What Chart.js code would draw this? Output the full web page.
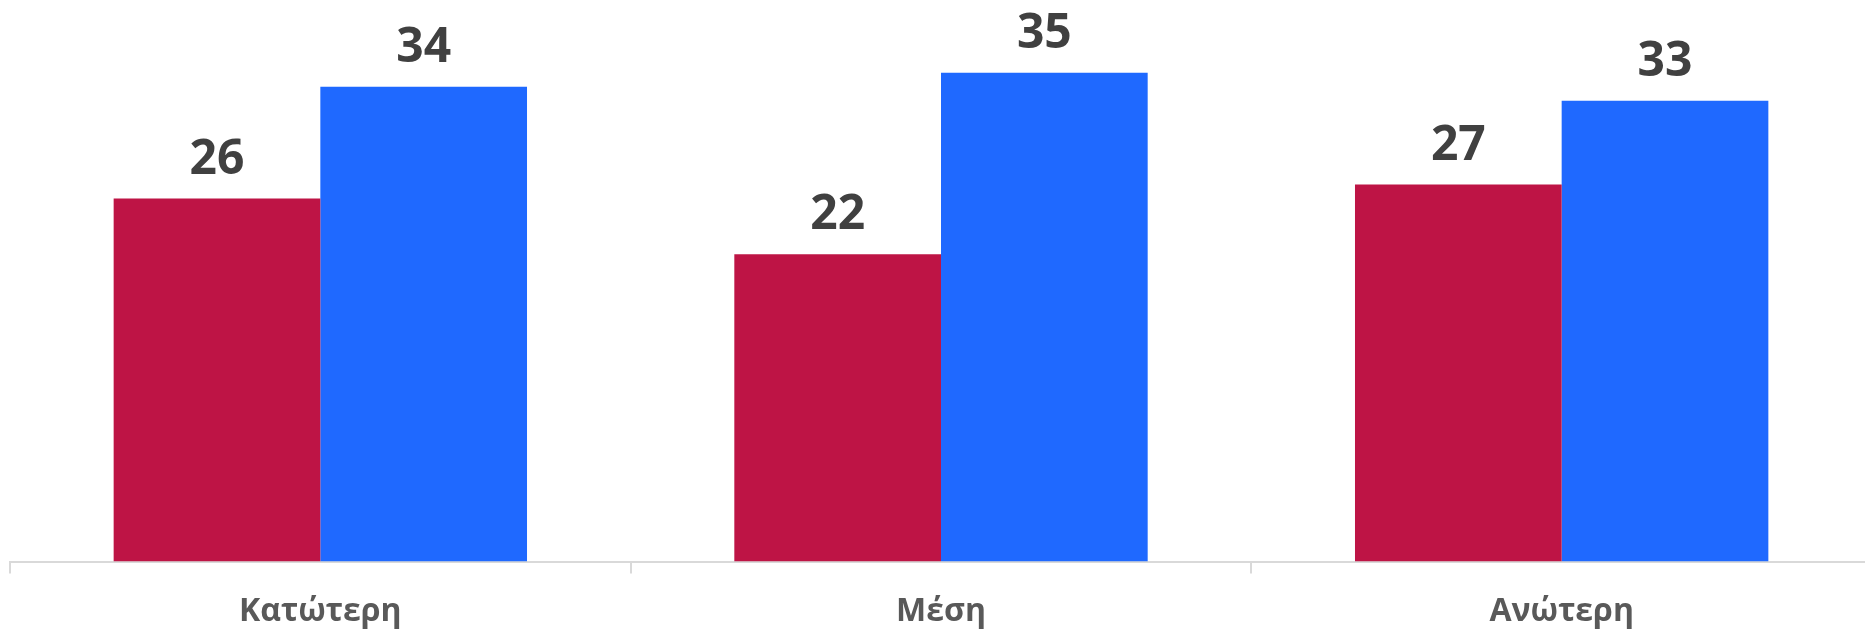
<!DOCTYPE html>
<html>
<head>
<meta charset="utf-8">
<script src="https://cdn.jsdelivr.net/npm/chart.js@4/dist/chart.umd.min.js"></script>
<style>
  html, body { margin: 0; padding: 0; background: #fff; overflow: hidden; }
  #wrap { width: 1872px; height: 629px; position: relative; }
</style>
</head>
<body>
<div id="wrap"><canvas id="chart"></canvas></div>
<script>
var categories = ['Κατώτερη', 'Μέση', 'Ανώτερη'];
var seriesRed = [26, 22, 27];
var seriesBlue = [34, 35, 33];
var yMax = 40;

// value labels over each bar
var barLabels = {
    id: 'barLabels',
    afterDatasetsDraw: function(chart) {
        var ctx = chart.ctx;
        ctx.save();
        ctx.font = 'bold 48px "Open Sans"';
        ctx.fillStyle = '#404040';
        ctx.textAlign = 'center';
        ctx.textBaseline = 'alphabetic';
        chart.data.datasets.forEach(function(ds, i) {
            chart.getDatasetMeta(i).data.forEach(function(bar, j) {
                ctx.fillText(ds.data[j], bar.x, bar.y - 25);
            });
        });
        ctx.restore();
    }
};

new Chart(document.getElementById('chart'), {
    type: 'bar',
    data: {
        labels: categories,
        datasets: [{
            data: seriesRed,
            backgroundColor: '#BE1445'
        }, {
            data: seriesBlue,
            backgroundColor: '#1F69FF'
        }]
    },
    options: {
        responsive: true,
        maintainAspectRatio: false,
        animation: false,
        layout: { padding: { left: 10, top: 3, right: 0, bottom: -21 } },
        categoryPercentage: 0.666,
        barPercentage: 1.0,
        plugins: { legend: { display: false }, tooltip: { enabled: false } },
        scales: {
            x: {
                grid: { drawOnChartArea: false, tickLength: 12, color: '#d9d9d9', lineWidth: 2 },
                border: { color: '#d9d9d9', width: 2 },
                ticks: {
                    color: '#595959',
                    padding: 19,
                    font: { family: '"Open Sans"', size: 32, weight: 'bold', lineHeight: 1.2 }
                }
            },
            y: { display: false, min: 0, max: yMax }
        }
    },
    plugins: [barLabels]
});
</script>
</body>
</html>
